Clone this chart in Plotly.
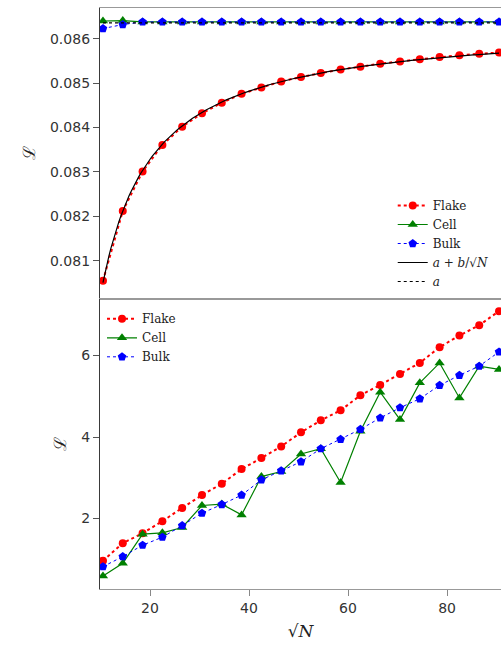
import numpy as np
import plotly.graph_objects as go
from plotly.subplots import make_subplots

# x values: sqrt(N)
sqrtN = [10.5, 14.5, 18.5, 22.5, 26.5, 30.5, 34.5, 38.5, 42.5, 46.5, 50.5,
         54.5, 58.5, 62.5, 66.5, 70.5, 74.5, 78.5, 82.5, 86.5, 90.5]

# top panel (normalised)
flake_top = [0.08055, 0.08212, 0.08301, 0.08361, 0.08402, 0.08432, 0.08456,
             0.08476, 0.08490, 0.08504, 0.08514, 0.08523, 0.08531, 0.08537,
             0.08544, 0.08549, 0.08554, 0.08559, 0.08563, 0.08566, 0.08569]
cell_top = [0.08640, 0.08641, 0.08638, 0.08638, 0.08638, 0.08638, 0.08638,
            0.08638, 0.08638, 0.08638, 0.08638, 0.08638, 0.08638, 0.08638,
            0.08638, 0.08638, 0.08638, 0.08638, 0.08638, 0.08638, 0.08638]
bulk_top = [0.08623, 0.08632, 0.08638, 0.08638, 0.08638, 0.08638, 0.08638,
            0.08638, 0.08638, 0.08638, 0.08638, 0.08638, 0.08638, 0.08638,
            0.08638, 0.08638, 0.08638, 0.08638, 0.08638, 0.08638, 0.08638]

# bottom panel
flake_bot = [0.967, 1.395, 1.64, 1.935, 2.26, 2.575, 2.853, 3.214, 3.485, 3.77,
             4.115, 4.41, 4.655, 5.024, 5.28, 5.55, 5.82, 6.205, 6.49, 6.745, 7.09]
cell_bot = [0.591, 0.903, 1.616, 1.65, 1.78, 2.32, 2.354, 2.09, 3.03, 3.155,
            3.584, 3.714, 2.886, 4.14, 5.1, 4.43, 5.33, 5.82, 4.96, 5.74, 5.66]
bulk_bot = [0.82, 1.066, 1.346, 1.543, 1.828, 2.133, 2.345, 2.575, 2.95, 3.173,
            3.394, 3.714, 3.943, 4.19, 4.47, 4.72, 4.94, 5.27, 5.516, 5.74, 6.09]

top_ticks = [0.081, 0.082, 0.083, 0.084, 0.085, 0.086]
bot_ticks = [2, 4, 6]
x_ticks = [20, 40, 60, 80]

# least-squares fit a + b/sqrt(N) to Flake data
xs = np.array(sqrtN)
A = np.vstack([np.ones_like(xs), 1.0 / xs]).T
(a_fit, b_fit), *_ = np.linalg.lstsq(A, np.array(flake_top), rcond=None)
xfit = np.linspace(xs.min(), xs.max(), 200)
yfit = a_fit + b_fit / xfit

RED, GREEN, BLUE = "#ff0000", "#008000", "#0000ff"

fig = make_subplots(rows=2, cols=1, shared_xaxes=True, vertical_spacing=0.0)

# Top panel
fig.add_trace(go.Scatter(x=sqrtN, y=flake_top, mode="lines+markers", name="Flake",
                         line=dict(color=RED, width=2, dash="dot"),
                         marker=dict(symbol="circle", size=8, color=RED),
                         legend="legend"), row=1, col=1)
fig.add_trace(go.Scatter(x=sqrtN, y=cell_top, mode="lines+markers", name="Cell",
                         line=dict(color=GREEN, width=1.2),
                         marker=dict(symbol="triangle-up", size=9, color=GREEN),
                         legend="legend"), row=1, col=1)
fig.add_trace(go.Scatter(x=sqrtN, y=bulk_top, mode="lines+markers", name="Bulk",
                         line=dict(color=BLUE, width=1, dash="dot"),
                         marker=dict(symbol="pentagon", size=9, color=BLUE),
                         legend="legend"), row=1, col=1)
fig.add_trace(go.Scatter(x=xfit, y=yfit, mode="lines",
                         name="<i>a</i> + <i>b</i>/√<i>N</i>",
                         line=dict(color="black", width=1.2),
                         legend="legend"), row=1, col=1)
fig.add_trace(go.Scatter(x=[xs.min(), xs.max()], y=[a_fit, a_fit], mode="lines",
                         name="<i>a</i>",
                         line=dict(color="black", width=1.2, dash="dot"),
                         legend="legend"), row=1, col=1)

# Bottom panel
fig.add_trace(go.Scatter(x=sqrtN, y=flake_bot, mode="lines+markers", name="Flake",
                         line=dict(color=RED, width=2, dash="dot"),
                         marker=dict(symbol="circle", size=8, color=RED),
                         legend="legend2"), row=2, col=1)
fig.add_trace(go.Scatter(x=sqrtN, y=cell_bot, mode="lines+markers", name="Cell",
                         line=dict(color=GREEN, width=1.2),
                         marker=dict(symbol="triangle-up", size=9, color=GREEN),
                         legend="legend2"), row=2, col=1)
fig.add_trace(go.Scatter(x=sqrtN, y=bulk_bot, mode="lines+markers", name="Bulk",
                         line=dict(color=BLUE, width=1, dash="dot"),
                         marker=dict(symbol="pentagon", size=9, color=BLUE),
                         legend="legend2"), row=2, col=1)

tickfont = dict(family="DejaVu Sans", size=14, color="#333333")
legfont = dict(family="DejaVu Serif, serif", size=12, color="#222222")

fig.update_layout(
    width=501, height=648,
    margin=dict(l=100, r=0, t=8, b=59, autoexpand=False),
    plot_bgcolor="white", paper_bgcolor="white",
    legend=dict(x=0.73, y=0.685, xanchor="left", yanchor="top",
                font=legfont, bgcolor="rgba(255,255,255,0)",
                tracegroupgap=0, itemwidth=30),
    legend2=dict(x=0.005, y=0.49, xanchor="left", yanchor="top",
                 font=legfont, bgcolor="rgba(255,255,255,0)",
                 tracegroupgap=0, itemwidth=30),
)

xrange = [9.9, 90.9]
fig.update_xaxes(range=xrange, showgrid=False, zeroline=False,
                 showline=True, linecolor="#999999", linewidth=1.3, mirror=True)
fig.update_xaxes(showticklabels=False, ticks="", row=1, col=1)
fig.update_xaxes(tickvals=x_ticks, ticks="outside", ticklen=6, tickcolor="#888888",
                 tickwidth=1.3, tickfont=tickfont,
                 title=dict(text="√<i>N</i>", font=dict(family="DejaVu Serif", size=17, color="#222222"),
                            standoff=10),
                 row=2, col=1)

fig.update_yaxes(showgrid=False, zeroline=False, showline=True, linecolor="#3a3a3a",
                 linewidth=1.3, mirror=False, ticks="outside", ticklen=6,
                 tickcolor="#555555", tickwidth=1.3, tickfont=tickfont)
fig.update_yaxes(range=[0.080151, 0.086693], tickvals=top_ticks, tickformat=".3f",
                 title=dict(text="ℒ", font=dict(family="DejaVu Serif", size=17, color="#222222"),
                            standoff=10),
                 row=1, col=1)
fig.update_yaxes(range=[0.271, 7.40], tickvals=bot_ticks,
                 title=dict(text="ℒ", font=dict(family="DejaVu Serif", size=17, color="#222222"),
                            standoff=10),
                 row=2, col=1)

fig.write_html("out.html", config={"displayModeBar": False},
               post_script="document.body.style.margin='0';document.body.style.overflow='hidden';")
